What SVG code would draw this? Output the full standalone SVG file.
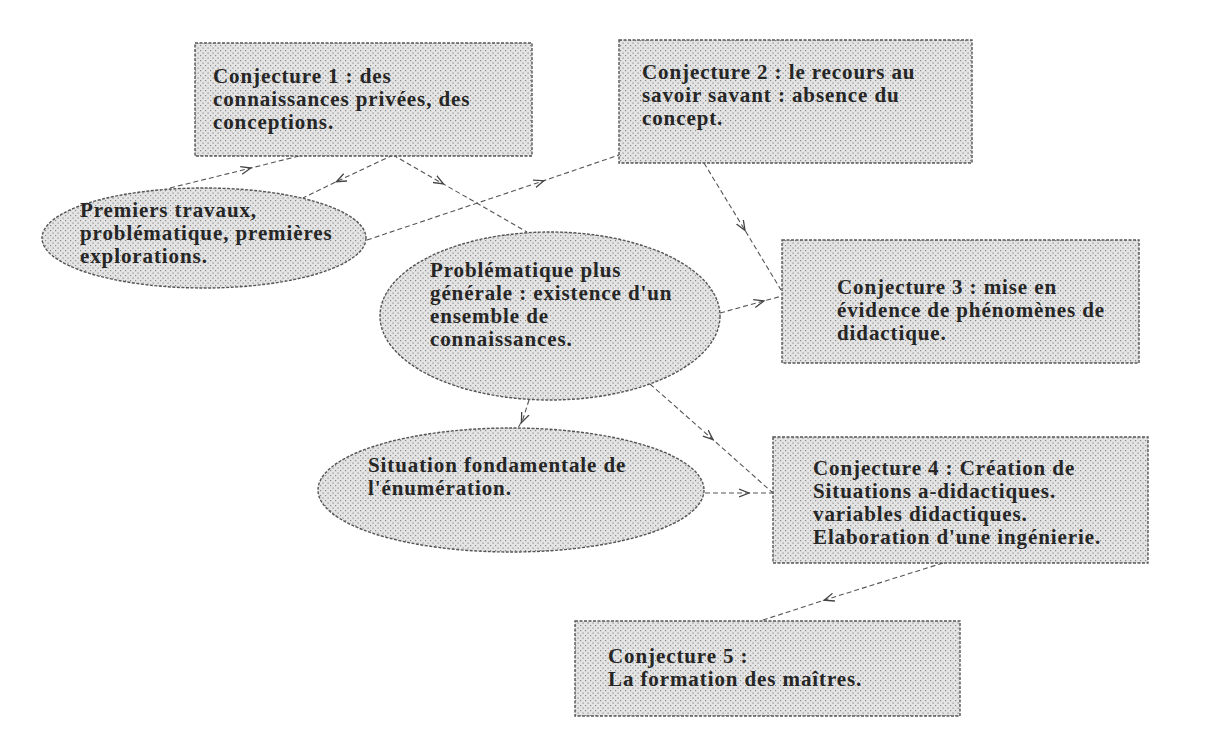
<svg xmlns="http://www.w3.org/2000/svg" width="1223" height="755" viewBox="0 0 1223 755">
<defs>
<pattern id="dots" width="5" height="5" patternUnits="userSpaceOnUse">
<rect width="5" height="5" fill="#e4e4e4"/>
<rect x="0" y="0" width="1.2" height="1.2" fill="#8a8a8a"/>
<rect x="2.5" y="2.5" width="1.2" height="1.2" fill="#8a8a8a"/>
</pattern>
<marker id="ah" viewBox="0 0 12 10" refX="6" refY="5" markerWidth="12" markerHeight="10" markerUnits="userSpaceOnUse" orient="auto">
<path d="M0,1 L10,5 L0,9" fill="none" stroke="#444" stroke-width="1.3"/>
</marker>
</defs>
<style>
.shape{fill:url(#dots);stroke:#555;stroke-width:1.4;stroke-dasharray:3 1.5}
.t{font-family:"Liberation Serif","Times New Roman",serif;font-size:21px;font-weight:bold;letter-spacing:0.9px;fill:#262626}
.c{fill:none;stroke:#555;stroke-width:1.1;stroke-dasharray:5 3;marker-mid:url(#ah)}
</style>
<rect width="1223" height="755" fill="#ffffff"/>
<g id="connectors">
<path class="c" d="M170,188 L247,169 L303,155"/>
<path class="c" d="M393,155 L340,180 L303,198"/>
<path class="c" d="M393,155 L440,182 L527,232"/>
<path class="c" d="M367,240 L540,182 L619,155"/>
<path class="c" d="M704,163 L743,227 L781,290"/>
<path class="c" d="M720,313 L760,302 L782,296"/>
<path class="c" d="M529,400 L523,419 L518,428"/>
<path class="c" d="M650,384 L710,437 L773,493"/>
<path class="c" d="M705,493 L745,493 L773,493"/>
<path class="c" d="M943,563 L828,599 L760,621"/>
</g>
<g id="conj1">
<rect class="shape" x="195" y="43" width="337" height="113"/>
<text class="t" x="213" y="83">Conjecture 1 : des</text>
<text class="t" x="213" y="106">connaissances privées, des</text>
<text class="t" x="213" y="129">conceptions.</text>
</g>
<g id="conj2">
<rect class="shape" x="619" y="40" width="353" height="123"/>
<text class="t" x="642" y="79">Conjecture 2 : le recours au</text>
<text class="t" x="642" y="102">savoir savant : absence du</text>
<text class="t" x="642" y="125">concept.</text>
</g>
<g id="premiers">
<ellipse class="shape" cx="204" cy="238" rx="162" ry="50"/>
<text class="t" x="80" y="217">Premiers travaux,</text>
<text class="t" x="80" y="240">problématique, premières</text>
<text class="t" x="80" y="263">explorations.</text>
</g>
<g id="problematique">
<ellipse class="shape" cx="550" cy="316" rx="170" ry="84"/>
<text class="t" x="430" y="277">Problématique plus</text>
<text class="t" x="430" y="300">générale : existence d'un</text>
<text class="t" x="430" y="323">ensemble de</text>
<text class="t" x="430" y="346">connaissances.</text>
</g>
<g id="conj3">
<rect class="shape" x="782" y="240" width="357" height="123"/>
<text class="t" x="837" y="294">Conjecture 3 : mise en</text>
<text class="t" x="837" y="317">évidence de phénomènes de</text>
<text class="t" x="837" y="340">didactique.</text>
</g>
<g id="situation">
<ellipse class="shape" cx="511" cy="490" rx="193" ry="62"/>
<text class="t" x="368" y="472">Situation fondamentale de</text>
<text class="t" x="368" y="495">l'énumération.</text>
</g>
<g id="conj4">
<rect class="shape" x="773" y="437" width="375" height="126"/>
<text class="t" x="813" y="475">Conjecture 4 : Création de</text>
<text class="t" x="813" y="498">Situations a-didactiques.</text>
<text class="t" x="813" y="521">variables didactiques.</text>
<text class="t" x="813" y="544">Elaboration d'une ingénierie.</text>
</g>
<g id="conj5">
<rect class="shape" x="575" y="621" width="385" height="95"/>
<text class="t" x="608" y="663">Conjecture 5 :</text>
<text class="t" x="608" y="686">La formation des maîtres.</text>
</g>
</svg>
